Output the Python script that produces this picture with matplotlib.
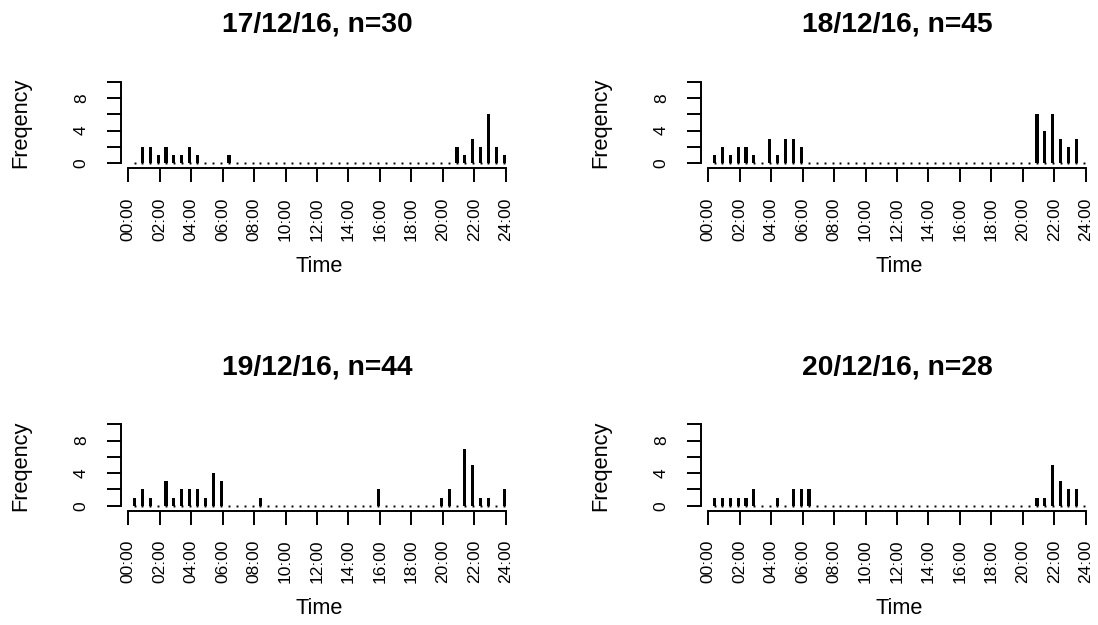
import numpy as np
import matplotlib
matplotlib.use("Agg")
import matplotlib.pyplot as plt

plt.rcParams['font.family'] = ['Liberation Sans', 'DejaVu Sans']

# ---- data ----
titles = ["17/12/16, n=30", "18/12/16, n=45", "19/12/16, n=44", "20/12/16, n=28"]
bin_start_hours = np.arange(0, 24, 0.5)          # 48 half-hour bins
tick_hours = list(range(0, 25, 2))
tick_labels = ["00:00", "02:00", "04:00", "06:00", "08:00", "10:00", "12:00",
               "14:00", "16:00", "18:00", "20:00", "22:00", "24:00"]
y_ticks = [0, 2, 4, 6, 8, 10]
y_tick_labels = ["0", "", "4", "", "8", ""]

day_17 = [0, 2, 2, 1, 2, 1, 1, 2, 1, 0, 0, 0,
          1, 0, 0, 0, 0, 0, 0, 0, 0, 0, 0, 0,
          0, 0, 0, 0, 0, 0, 0, 0, 0, 0, 0, 0,
          0, 0, 0, 0, 0, 2, 1, 3, 2, 6, 2, 1]
day_18 = [1, 2, 1, 2, 2, 1, 0, 3, 1, 3, 3, 2,
          0, 0, 0, 0, 0, 0, 0, 0, 0, 0, 0, 0,
          0, 0, 0, 0, 0, 0, 0, 0, 0, 0, 0, 0,
          0, 0, 0, 0, 0, 6, 4, 6, 3, 2, 3, 0]
day_19 = [1, 2, 1, 0, 3, 1, 2, 2, 2, 1, 4, 3,
          0, 0, 0, 0, 1, 0, 0, 0, 0, 0, 0, 0,
          0, 0, 0, 0, 0, 0, 0, 2, 0, 0, 0, 0,
          0, 0, 0, 1, 2, 0, 7, 5, 1, 1, 0, 2]
day_20 = [1, 1, 1, 1, 1, 2, 0, 0, 1, 0, 2, 2,
          2, 0, 0, 0, 0, 0, 0, 0, 0, 0, 0, 0,
          0, 0, 0, 0, 0, 0, 0, 0, 0, 0, 0, 0,
          0, 0, 0, 0, 0, 1, 1, 5, 3, 2, 2, 0]
series = [day_17, day_18, day_19, day_20]

# ---- layout (pixels) ----
W, H = 1098, 625
fig = plt.figure(figsize=(W / 100, H / 100), dpi=100)
fig.patch.set_facecolor('white')

def rect(l, t, r, b):
    return [l / W, 1 - b / H, (r - l) / W, (b - t) / H]

base_l, base_t, base_r, base_b = 120.7, 81.7, 512.0, 168.3
dx, dy = 580.0, 342.5
plot_offset = 0.4
x_left = -(128.3 - base_l) / 15.725
x_right = 24 + (base_r - 505.7) / 15.725
y_bottom = -(base_b - 163.3) / 8.16

for i, (title, vals) in enumerate(zip(titles, series)):
    col, row = i % 2, i // 2
    ox, oy = col * dx, row * dy
    ax = fig.add_axes(rect(base_l + ox, base_t + oy, base_r + ox, base_b + oy))
    ax.set_facecolor('none')
    x = bin_start_hours + plot_offset
    ax.plot(x, np.zeros_like(x), 's', ms=1.4, color='black', mew=0, zorder=2)
    ax.bar(x, vals, width=0.2, color='black', linewidth=0, zorder=3)
    ax.set_xlim(x_left, x_right)
    ax.set_ylim(y_bottom, 10)
    for s in ['top', 'right']:
        ax.spines[s].set_visible(False)
    ax.spines['left'].set_bounds(0, 10)
    ax.spines['bottom'].set_bounds(0, 24)
    for s in ['left', 'bottom']:
        ax.spines[s].set_linewidth(1.4)
    ax.set_xticks(tick_hours)
    ax.set_xticklabels(tick_labels, rotation=90, fontsize=12.5)
    ax.set_yticks(y_ticks)
    ax.set_yticklabels(y_tick_labels, rotation=90, fontsize=12.5, va='center')
    ax.tick_params(axis='x', direction='out', length=10, width=1.4, pad=11)
    ax.tick_params(axis='y', direction='out', length=10, width=1.4, pad=13)

    cx = 317.5 + ox
    fig.text(cx / W, 1 - (31.7 + oy) / H, title, ha='center', va='baseline',
             fontsize=20.3, fontweight='bold')
    fig.text((21 + ox) / W, 1 - (123 + oy) / H, "Freqency", rotation=90,
             ha='center', va='center', fontsize=15.7)
    fig.text((319 + ox) / W, 1 - (271.7 + oy) / H, "Time", ha='center',
             va='baseline', fontsize=15.7)

fig.savefig("out.png", dpi=100, facecolor='white')
